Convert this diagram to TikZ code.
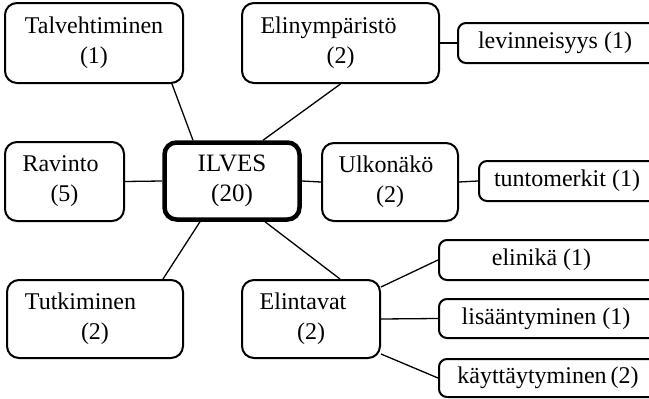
\documentclass[tikz,border=0pt]{standalone}
\usepackage{fontspec}
\setmainfont{Liberation Serif}
\begin{document}
\begin{tikzpicture}[x=1pt,y=-1pt,
  topic/.style={draw, line width=2pt, rounded corners=12pt, align=center,
    inner sep=0pt, font=\fontsize{24}{30}\selectfont},
  hub/.style={topic, line width=4.5pt, font=\fontsize{25}{30}\selectfont},
  leaf/.style={draw, line width=2pt, rounded corners=8pt, inner sep=0pt,
    minimum width=221pt, font=\fontsize{24}{30}\selectfont},
  link/.style={line width=1.3pt}]
\useasboundingbox (0,0) rectangle (649,399);
\clip (0,0) rectangle (649,399);

% central topic
\node[hub, minimum width=135pt, minimum height=77pt] (ilves) at (232,181) {ILVES\\(20)};

% main branches
\node[topic, minimum width=178pt, minimum height=80pt] (talv) at (94,43) {Talvehtiminen\\(1)};
\node[topic, minimum width=197pt, minimum height=80pt] (elym) at (340.5,43) {Elinympäristö\hspace*{24pt}\\(2)};
\node[topic, minimum width=119pt, minimum height=79pt] (rav) at (64.5,181.5) {Ravinto\hspace*{8pt}\\(5)};
\node[topic, minimum width=136pt, minimum height=78pt] (ulk) at (390,182) {Ulkonäkö\hspace*{8pt}\\(2)};
\node[topic, minimum width=176pt, minimum height=78pt] (tutk) at (95,319) {Tutkiminen\hspace*{29pt}\\(2)};
\node[topic, minimum width=138pt, minimum height=78pt] (elint) at (311,319) {Elintavat\hspace*{16pt}\\(2)};

% sub-branches, running off the right edge
\node[leaf, minimum width=202pt, minimum height=40pt] (lev) at (559,43) {levinneisyys (1)\hspace*{8pt}};
\node[leaf, minimum width=181pt, minimum height=40pt] (tunt) at (569.5,181) {tuntomerkit (1)\hspace*{5pt}};
\node[leaf, minimum width=221pt, minimum height=40pt] (elinika) at (549.5,260) {elinikä (1)\hspace*{16pt}};
\node[leaf, minimum width=221pt, minimum height=39pt] (lisa) at (549.5,318.5) {lisääntyminen (1)\hspace*{7pt}};
\node[leaf, minimum width=221pt, minimum height=38pt] (kayt) at (549.5,378) {käyttäytyminen\,(2)\hspace*{3pt}};

% connectors from the centre
\draw[link] ([xshift=78pt]talv.south) -- ([xshift=-39pt]ilves.north);
\draw[link] (elym.south) -- ([xshift=31pt]ilves.north);
\draw[link] (rav.east) -- (ilves.west);
\draw[link] (ilves.east) -- (ulk.west);
\draw[link] ([xshift=68pt]tutk.north) -- ([xshift=-32pt]ilves.south);
\draw[link] ([xshift=29pt]elint.north) -- ([xshift=33pt]ilves.south);

% connectors to the sub-branches
\draw[link] (elym.east) -- (lev.west);
\draw[link] (ulk.east) -- (tunt.west);
\draw[link] ([yshift=-8pt]elint.north east) -- (elinika.west);
\draw[link] (elint.east) -- (lisa.west);
\draw[link] ([yshift=5pt]elint.south east) -- (kayt.west);
\end{tikzpicture}
\end{document}
